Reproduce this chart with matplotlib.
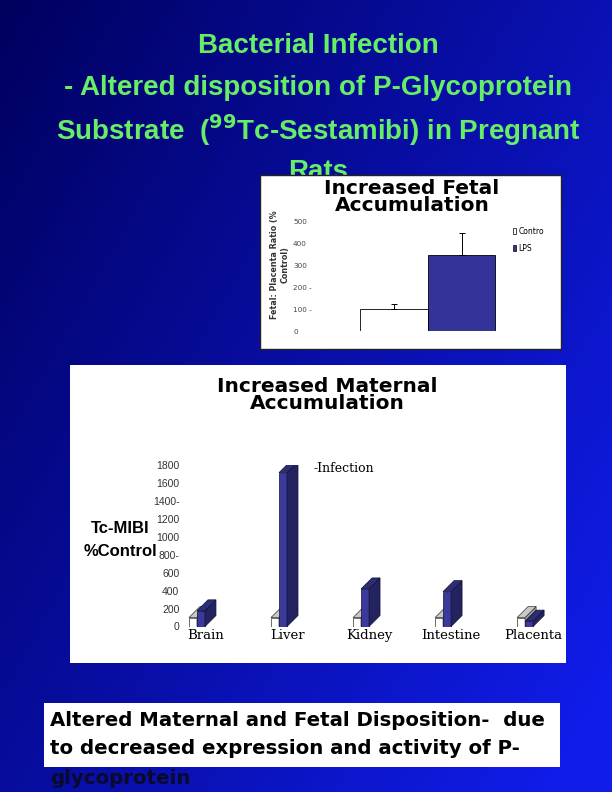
import numpy as np
import matplotlib
matplotlib.use("Agg")
import matplotlib.pyplot as plt
from matplotlib.patches import Rectangle, Polygon, Patch

W, H = 612, 792

# --- Data ---
title_lines = ["Bacterial Infection",
               "- Altered disposition of P-Glycoprotein",
               r"Substrate  ($^{\mathbf{99}}$Tc-Sestamibi) in Pregnant",
               "Rats"]

fetal_groups = ["Contro", "LPS"]
fetal_values = [100, 345]
fetal_errors = [23, 100]
fetal_ticks = [0, 100, 200, 300, 400, 500]
fetal_ticklabels = ["0", "100 -", "200 -", "300", "400", "500"]

organs = ["Brain", "Liver", "Kidney", "Intestine", "Placenta"]
control_pct = [100, 100, 100, 100, 100]
infection_pct = [175, 1720, 420, 390, 60]
maternal_ticks = [0, 200, 400, 600, 800, 1000, 1200, 1400, 1600, 1800]
maternal_ticklabels = ["0", "200", "400", "600", "800-", "1000", "1200", "1400-", "1600", "1800"]

bottom_lines = ["Altered Maternal and Fetal Disposition-  due",
                "to decreased expression and activity of P-",
                "glycoprotein"]


def fx(x):
    return x / W


def fy(y):
    return 1 - y / H


def px_axes(left, top, right, bottom):
    return [fx(left), fy(bottom), (right - left) / W, (bottom - top) / H]


fig = plt.figure(figsize=(6.12, 7.92), dpi=100)

# --- background gradient ---
bg = fig.add_axes([0, 0, 1, 1], zorder=-5)
xx, yy = np.meshgrid(np.linspace(0, 1, 200), np.linspace(0, 1, 260))
t = np.clip(0.62 * xx + 0.45 * yy, 0, 1)
c0 = np.array([0x00, 0x00, 0x5e]) / 255
c1 = np.array([0x10, 0x1c, 0xe8]) / 255
grad = c0[None, None, :] + (c1 - c0)[None, None, :] * t[..., None]
bg.imshow(grad, aspect="auto", extent=[0, 1, 1, 0])
bg.set_xlim(0, 1)
bg.set_ylim(1, 0)
bg.axis("off")

# --- title ---
green = "#66ee66"
for i, line in enumerate(title_lines):
    fig.text(fx(318), fy(46 + 42 * i), line, ha="center", va="center",
             fontsize=20, fontweight="bold", color=green,
             family="Liberation Sans", zorder=1)

# --- white panels ---
fig.patches.append(Rectangle((fx(260), fy(349)), fx(561) - fx(260), fy(175) - fy(349),
                             transform=fig.transFigure, facecolor="white",
                             edgecolor="#222222", lw=1, zorder=2))
fig.patches.append(Rectangle((fx(70), fy(663)), fx(566) - fx(70), fy(365) - fy(663),
                             transform=fig.transFigure, facecolor="white",
                             edgecolor="none", zorder=2))
fig.patches.append(Rectangle((fx(44), fy(767)), fx(560) - fx(44), fy(703) - fy(767),
                             transform=fig.transFigure, facecolor="white",
                             edgecolor="none", zorder=2))

# --- fetal chart ---
fig.text(fx(412), fy(197), "Increased Fetal\nAccumulation", ha="center", va="center",
         fontsize=14.5, fontweight="bold", linespacing=0.92,
         family="DejaVu Sans", zorder=4)

ax1 = fig.add_axes(px_axes(306, 221.3, 505, 331.3), zorder=3)
ax1.patch.set_alpha(0)
xpos = np.arange(len(fetal_groups))
cols = ["white", "#333399"]
for i in range(len(fetal_groups)):
    ax1.bar(xpos[i], fetal_values[i], width=1.0, align="edge", color=cols[i],
            edgecolor="black", lw=0.6, label=fetal_groups[i])
    ax1.errorbar(xpos[i] + 0.5, fetal_values[i], yerr=[[0], [fetal_errors[i]]],
                 color="black", lw=0.7, capsize=2, capthick=0.7)
ax1.set_xlim(-0.79, 2.14)
ax1.set_ylim(0, 500)
ax1.set_xticks([])
ax1.set_yticks(fetal_ticks)
ax1.set_yticklabels(fetal_ticklabels, fontsize=5.2, color="#444444", ha="left")
ax1.tick_params(axis="y", length=0, pad=9.3)
for s in ax1.spines.values():
    s.set_visible(False)
ax1.legend(handles=[Patch(facecolor="white", edgecolor="black", lw=0.5),
                    Patch(facecolor="#333399", edgecolor="black", lw=0.5)],
           labels=fetal_groups, fontsize=5.5, frameon=False,
           handlelength=0.4, handleheight=0.9, handletextpad=0.3,
           labelspacing=1.0, loc="upper left",
           bbox_to_anchor=(fx(506), fy(220)), bbox_transform=fig.transFigure)
fig.text(fx(280), fy(265), "Fetal: Placenta Ratio (%\nControl)", rotation=90,
         ha="center", va="center", fontsize=5.8, fontweight="bold",
         color="#333333", linespacing=1.2, zorder=4)

# --- maternal chart ---
fig.text(fx(327), fy(395), "Increased Maternal\nAccumulation", ha="center", va="center",
         fontsize=14.5, fontweight="bold", linespacing=0.92,
         family="DejaVu Sans", zorder=4)

ax2 = fig.add_axes(px_axes(185, 465.5, 562, 626.5), zorder=3)
ax2.patch.set_alpha(0)
pos = np.arange(len(organs))
bw = 8 / 82          # bar width in category units
dx = 11 / 82         # depth offset (x)
dy = 11 / 0.0894     # depth offset (value units)


def bar3d(ax, x0, h, front, side, top, edge):
    x1 = x0 + bw
    ax.bar(x0, h, width=bw, align="edge", color=front, edgecolor=edge, lw=0.5, zorder=3)
    ax.add_patch(Polygon([(x1, 0), (x1 + dx, dy), (x1 + dx, h + dy), (x1, h)],
                         closed=True, facecolor=side, edgecolor=edge, lw=0.5, zorder=3))
    ax.add_patch(Polygon([(x0, h), (x0 + dx, h + dy), (x1 + dx, h + dy), (x1, h)],
                         closed=True, facecolor=top, edgecolor=edge, lw=0.5, zorder=3))


for i in range(len(organs)):
    bar3d(ax2, pos[i] - bw, control_pct[i], "white", "#a0a0a0", "#c8c8c8", "#333333")
    bar3d(ax2, pos[i], infection_pct[i], "#3a3a9c", "#232360", "#2c2c78", "#111133")

ax2.set_xlim(-0.146, 4.45)
ax2.set_ylim(0, 1800)
ax2.set_yticks(maternal_ticks)
ax2.set_yticklabels(maternal_ticklabels, fontsize=7.5, color="#333333",
                    family="Liberation Sans")
ax2.set_xticks(pos + dx * 0.75)
ax2.set_xticklabels(organs, fontsize=9.5, family="DejaVu Serif")
ax2.tick_params(axis="y", length=0, pad=4)
ax2.tick_params(axis="x", length=0, pad=1.5)
for s in ax2.spines.values():
    s.set_visible(False)

fig.text(fx(313), fy(469), "-Infection", ha="left", va="center", fontsize=9,
         family="DejaVu Serif", zorder=4)
fig.text(fx(120), fy(540), "Tc-MIBI\n%Control", ha="center", va="center",
         fontsize=12, fontweight="bold", linespacing=1.6,
         family="Liberation Sans", zorder=4)

# --- bottom text box ---
for i, line in enumerate(bottom_lines):
    fig.text(fx(50), fy(720 + 29 * i), line, ha="left", va="center",
             fontsize=14.2, fontweight="bold", color="black" if i < 2 else "#0a0a2a",
             family="DejaVu Sans", zorder=4)

fig.savefig("out.png", dpi=100)
